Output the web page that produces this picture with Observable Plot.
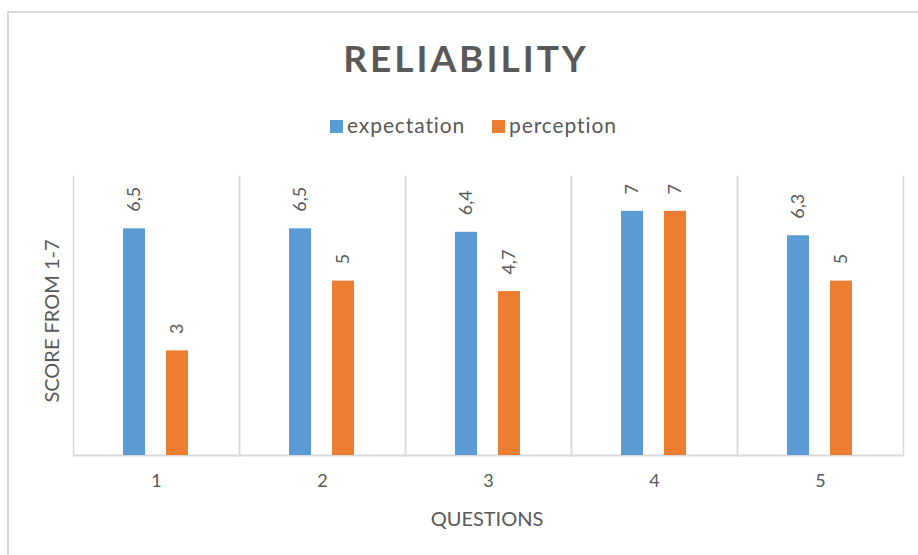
<!DOCTYPE html>
<html><head><meta charset="utf-8">
<script src="https://cdn.jsdelivr.net/npm/d3@7"></script>
<script src="https://cdn.jsdelivr.net/npm/@observablehq/plot@0.6"></script>
<style>
body{margin:0;background:#fff;}
#wrap{position:relative;width:918px;height:555px;overflow:hidden;background:#fff;}
#wrap > svg{position:absolute;left:0;top:0;}
</style>
</head><body>
<div id="wrap"></div>
<script>
const questions = ["1", "2", "3", "4", "5"];
const seriesNames = ["expectation", "perception"];
const expectation = [6.5, 6.5, 6.4, 7, 6.3];
const perception = [3, 5, 4.7, 7, 5];
const colors = ["#5B9BD5", "#ED7D31"];
const titleText = "RELIABILITY";
const yTitle = "SCORE FROM 1-7";
const xTitle = "QUESTIONS";

const data = questions.flatMap((q, i) => [
  {q, s: seriesNames[0], v: expectation[i]},
  {q, s: seriesNames[1], v: perception[i]}
]);
const fmt = v => String(v).replace(".", ",");
const FONT = "Lato, 'Open Sans', sans-serif";
const GRAY = "#595959";
const GRID = "#d9d9d9";

const chart = Plot.plot({
  width: 918, height: 555,
  marginLeft: 72, marginRight: 15, marginTop: 176, marginBottom: 100,
  style: {background: "transparent", fontFamily: FONT, fontSize: "18px", color: GRAY},
  fx: {domain: questions, padding: 0, label: null, axis: "bottom", tickSize: 0, tickPadding: 19},
  x: {domain: seriesNames, axis: null, paddingInner: 0.488, paddingOuter: 1.17},
  y: {domain: [0, 8], axis: null},
  color: {domain: seriesNames, range: colors},
  marks: [
    Plot.frame({anchor: "left", stroke: GRID, strokeWidth: 1.5}),
    Plot.frame({anchor: "right", stroke: GRID, strokeWidth: 1.5}),
    Plot.ruleY([0], {stroke: GRID, strokeWidth: 2}),
    Plot.barY(data, {fx: "q", x: "s", y: "v", fill: "s"}),
    Plot.text(data, {fx: "q", x: "s", y: "v", text: d => fmt(d.v), rotate: -90,
      textAnchor: "start", dy: -17, fill: GRAY, fontSize: 18})
  ]
});
const wrap = document.getElementById("wrap");
wrap.appendChild(chart);

// overlay: frame border, title, legend, axis titles
const ov = d3.select(wrap).append("svg")
  .attr("width", 918).attr("height", 555)
  .style("font-family", FONT).style("pointer-events", "none");
ov.append("path").attr("d", "M8,560V12H930").attr("fill", "none")
  .attr("stroke", GRID).attr("stroke-width", 2);
ov.append("text").attr("x", 466).attr("y", 72).attr("text-anchor", "middle")
  .attr("font-size", 37).attr("font-weight", "bold").attr("letter-spacing", 3)
  .attr("fill", GRAY).text(titleText);
const legX = [330, 492];
seriesNames.forEach((s, i) => {
  ov.append("rect").attr("x", legX[i]).attr("y", 120).attr("width", 13).attr("height", 13).attr("fill", colors[i]);
  ov.append("text").attr("x", legX[i] + 17).attr("y", 133).attr("font-size", 21)
    .attr("letter-spacing", 0.9).attr("fill", GRAY).text(s);
});
ov.append("text").attr("transform", "translate(59,321) rotate(-90)").attr("text-anchor", "middle")
  .attr("font-size", 20).attr("fill", GRAY).text(yTitle);
ov.append("text").attr("x", 487).attr("y", 526).attr("text-anchor", "middle")
  .attr("font-size", 20).attr("fill", GRAY).text(xTitle);
</script>
</body></html>
